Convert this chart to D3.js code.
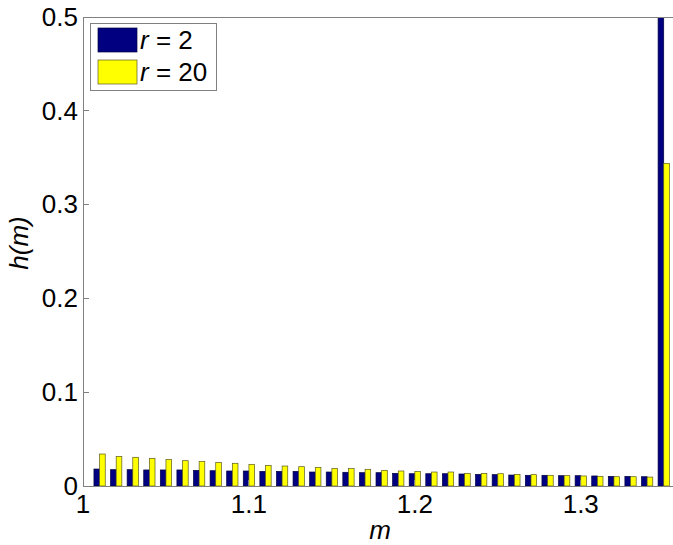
<!DOCTYPE html>
<html>
<head>
<meta charset="utf-8">
<script src="https://cdn.jsdelivr.net/npm/d3@7"></script>
<style>
  body { margin: 0; background: #fff; }
  svg { display: block; font-family: "Liberation Sans", Arial, sans-serif; }
</style>
</head>
<body>
<svg id="chart" width="673" height="545"></svg>
<script>
// ---- data ----
const binCenters = [1.01,1.02,1.03,1.04,1.05,1.06,1.07,1.08,1.09,1.10,
                    1.11,1.12,1.13,1.14,1.15,1.16,1.17,1.18,1.19,1.20,
                    1.21,1.22,1.23,1.24,1.25,1.26,1.27,1.28,1.29,1.30,
                    1.31,1.32,1.33,1.34,1.35];
const seriesR2 = [0.0181,0.0174,0.0174,0.0171,0.0171,0.0171,0.0167,0.0163,0.0160,0.0160,
                  0.0156,0.0156,0.0156,0.0149,0.0149,0.0146,0.0142,0.0142,0.0135,0.0131,
                  0.0131,0.0131,0.0128,0.0124,0.0121,0.0117,0.0114,0.0114,0.0110,0.0110,
                  0.0107,0.0103,0.0103,0.0099,0.5000];
const seriesR20 = [0.0341,0.0316,0.0306,0.0295,0.0284,0.0270,0.0263,0.0249,0.0242,0.0231,
                   0.0220,0.0213,0.0206,0.0199,0.0188,0.0185,0.0178,0.0167,0.0160,0.0156,
                   0.0149,0.0149,0.0135,0.0135,0.0131,0.0124,0.0121,0.0114,0.0110,0.0107,
                   0.0103,0.0099,0.0099,0.0095,0.3440];
const seriesNames = ["r = 2", "r = 20"];
const xTicks = [1, 1.1, 1.2, 1.3];
const yTicks = [0, 0.1, 0.2, 0.3, 0.4, 0.5];

// ---- layout ----
const svg = d3.select("#chart");
const L = 83, R = 677, T = 17, B = 486;
const FS = 26;
const x = d3.scaleLinear().domain([1, 1.358]).range([L, R]);
const y = d3.scaleLinear().domain([0, 0.5]).range([B, T]);
const colors = ["#000080", "#ffff00"];
const edges = ["#000040", "#5a5a20"];
const barW = 0.0034;  // in data units

svg.append("defs").append("clipPath").attr("id", "clip")
  .append("rect").attr("x", L).attr("y", T).attr("width", R - L).attr("height", B - T);

const gBars = svg.append("g").attr("clip-path", "url(#clip)");
const series = [seriesR2, seriesR20];
series.forEach((vals, si) => {
  gBars.selectAll(".b" + si).data(vals).enter().append("rect")
    .attr("x", (d, i) => x(binCenters[i] + (si === 0 ? -barW : 0)))
    .attr("width", x(1 + barW) - x(1))
    .attr("y", d => y(d))
    .attr("height", d => y(0) - y(d))
    .attr("fill", colors[si])
    .attr("stroke", edges[si])
    .attr("stroke-width", 0.7);
});

// axes box
svg.append("rect").attr("x", L).attr("y", T).attr("width", R - L).attr("height", B - T)
  .attr("fill", "none").attr("stroke", "#808080").attr("stroke-width", 1)
  .attr("shape-rendering", "crispEdges");

// y ticks & labels
const gy = svg.append("g");
yTicks.forEach(t => {
  gy.append("line").attr("x1", L).attr("x2", L + 6).attr("y1", y(t)).attr("y2", y(t))
    .attr("stroke", "#808080").attr("shape-rendering", "crispEdges");
  gy.append("text").attr("x", L - 5).attr("y", y(t)).attr("dy", "0.34em")
    .attr("text-anchor", "end").attr("font-size", FS).attr("fill", "#000")
    .text(d3.format("")(t));
});

// x ticks & labels
const gx = svg.append("g");
xTicks.forEach(t => {
  gx.append("line").attr("x1", x(t)).attr("x2", x(t)).attr("y1", B).attr("y2", B - 6)
    .attr("stroke", "#808080").attr("shape-rendering", "crispEdges");
  gx.append("text").attr("x", x(t)).attr("y", 513)
    .attr("text-anchor", "middle").attr("font-size", FS).attr("fill", "#000")
    .text(d3.format("")(t));
});

// axis labels
svg.append("text").attr("x", (L + R) / 2).attr("y", 539)
  .attr("text-anchor", "middle").attr("font-size", FS).attr("font-style", "italic")
  .text("m");
svg.append("text").attr("transform", "translate(28,243) rotate(-90)")
  .attr("text-anchor", "middle").attr("font-size", FS).attr("font-style", "italic")
  .text("h(m)");

// legend
const lg = svg.append("g");
lg.append("rect").attr("x", 90.5).attr("y", 23.5).attr("width", 126).attr("height", 67)
  .attr("fill", "#fff").attr("stroke", "#808080").attr("stroke-width", 1);
seriesNames.forEach((n, i) => {
  const yy = 28 + i * 32;
  lg.append("rect").attr("x", 98).attr("y", yy).attr("width", 39).attr("height", 24)
    .attr("fill", colors[i]).attr("stroke", edges[i]).attr("stroke-width", 0.7);
  const t = lg.append("text").attr("x", 140).attr("y", yy + 21).attr("font-size", FS);
  t.append("tspan").attr("font-style", "italic").text("r");
  t.append("tspan").text(n.slice(1));
});
</script>
</body>
</html>
